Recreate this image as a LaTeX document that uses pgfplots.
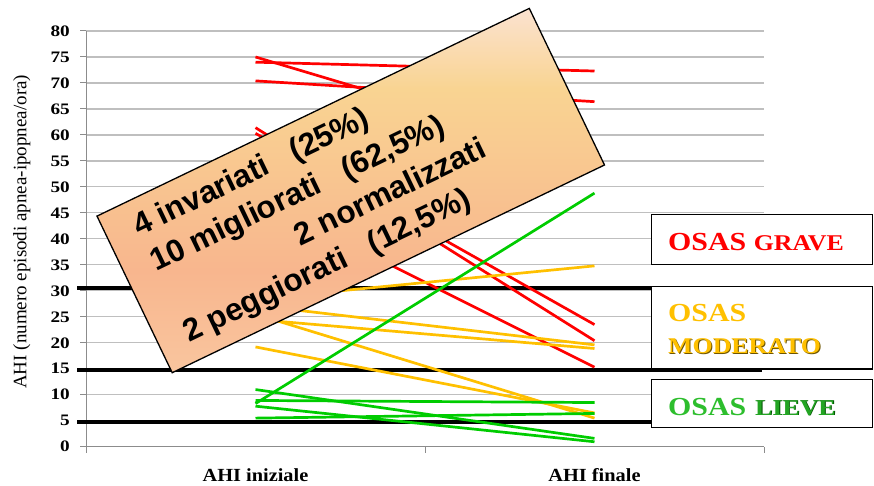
\documentclass[border=0pt]{standalone}
\usepackage{pgfplots}
\pgfplotsset{compat=1.18}
\usepackage{fontspec}
\setmainfont{Liberation Serif}
\newfontfamily\arialfont{Liberation Sans}
\definecolor{cred}{RGB}{255,0,0}
\definecolor{cyel}{RGB}{255,192,0}
\definecolor{cgrn}{RGB}{0,204,0}
\definecolor{gridc}{RGB}{191,191,191}
\definecolor{axc}{RGB}{140,140,140}
\definecolor{pkA}{RGB}{252,230,236}
\definecolor{pchA}{RGB}{250,206,168}
\definecolor{salA}{RGB}{248,182,142}
\definecolor{lorA}{RGB}{249,212,146}
\definecolor{pkB}{RGB}{252,234,242}
\definecolor{crmA}{RGB}{253,238,214}
\definecolor{yshadow}{RGB}{110,85,0}
\definecolor{gshadow}{RGB}{0,80,0}
\definecolor{gtxt}{RGB}{45,190,45}
\definecolor{gtxt2}{RGB}{35,165,35}
\pgfdeclareverticalshading{boxshade}{100bp}{color(0bp)=(pkA); color(17bp)=(pchA); color(39bp)=(salA); color(64bp)=(lorA); color(81bp)=(pkB); color(100bp)=(crmA)}
\begin{document}
\begin{tikzpicture}[x=1pt,y=1pt]
\useasboundingbox (0,0) rectangle (874,485);
\begin{axis}[
  at={(86pt,38.3pt)}, anchor=south west,
  scale only axis, width=678pt, height=415.7pt,
  xmin=-0.5, xmax=1.5, ymin=0, ymax=80,
  clip=false,
  axis x line*=bottom, axis y line*=left,
  axis line style={-, axc, line width=1pt},
  tick align=outside, major tick length=6pt,
  tick style={axc, line width=1pt},
  ytick={0,5,...,80},
  ymajorgrids, major grid style={gridc, line width=1.2pt},
  xtick={-0.5,0.5,1.5}, xticklabels={},
  extra x ticks={0,1},
  extra x tick labels={AHI iniziale,AHI finale},
  extra x tick style={major tick length=0pt, grid=none,
     tick label style={font=\fontsize{18.5}{18.5}\selectfont\bfseries, anchor=base, yshift=-35pt, xscale=1.1}},
  yticklabel style={font=\fontsize{16}{16}\selectfont\bfseries, xscale=1.2, xshift=-5pt},
  /pgf/number format/assume math mode=true,
  ylabel={AHI (numero episodi apnea-ipopnea/ora)},
  ylabel style={font=\fontsize{19}{19}\selectfont, at={(axis description cs:-0.088,0.517)}, anchor=base},
]
% severity thresholds
\addplot[black, line width=4.3pt, forget plot] coordinates {(-0.5265,30.6) (1.494,30.6)};
\addplot[black, line width=4.3pt, forget plot] coordinates {(-0.5265,14.8) (1.494,14.8)};
\addplot[black, line width=4.3pt, forget plot] coordinates {(-0.5265,4.8) (1.494,4.8)};
% red
\addplot[cred, line width=2.7pt] coordinates {(0,75.0) (1,55.5)};
\addplot[cred, line width=2.7pt] coordinates {(0,74.0) (1,72.3)};
\addplot[cred, line width=2.7pt] coordinates {(0,70.4) (1,66.4)};
\addplot[cred, line width=2.7pt] coordinates {(0,61.4) (1,20.4)};
\addplot[cred, line width=2.7pt] coordinates {(0,60.3) (1,23.5)};
\addplot[cred, line width=2.7pt] coordinates {(0,48.0) (1,15.3)};
% yellow
\addplot[cyel, line width=2.7pt] coordinates {(0,28.4) (1,34.8)};
\addplot[cyel, line width=2.7pt] coordinates {(0,27.2) (1,19.6)};
\addplot[cyel, line width=2.7pt] coordinates {(0,24.5) (1,18.9)};
\addplot[cyel, line width=2.7pt] coordinates {(0,25.5) (1,5.5)};
\addplot[cyel, line width=2.7pt] coordinates {(0,19.2) (1,6.5)};
% green
\addplot[cgrn, line width=2.7pt] coordinates {(0,11.0) (1,1.6)};
\addplot[cgrn, line width=2.7pt] coordinates {(0,8.9) (1,8.5)};
\addplot[cgrn, line width=2.7pt] coordinates {(0,8.3) (1,48.8)};
\addplot[cgrn, line width=2.7pt] coordinates {(0,7.8) (1,0.95)};
\addplot[cgrn, line width=2.7pt] coordinates {(0,5.5) (1,6.4)};
\end{axis}
% rotated summary box
\shade[shading=boxshade] (97,268.9) -- (529.3,476.6) -- (604.5,320) -- (172.2,112.3) -- cycle;
\draw[line width=1.3pt, line join=miter] (97,268.9) -- (529.3,476.6) -- (604.5,320) -- (172.2,112.3) -- cycle;
\begin{scope}[shift={(97,268.9)}, rotate=25.66, transform shape]
\tikzset{bt/.style={anchor=base west, inner sep=0pt, font=\arialfont\bfseries\fontsize{31.5}{31.5}\selectfont}}
\node[bt] at (29,-37) {4 invariati\hspace{0.834em}(25\%)};
\node[bt] at (29,-76) {10 migliorati\hspace{0.834em}(62,5\%)};
\node[bt] at (170,-115) {2 normalizzati};
\node[bt] at (28,-154) {2 peggiorati\hspace{0.834em}(12,5\%)};
\end{scope}
% severity boxes
\draw[line width=1.4pt, fill=white] (651.7,220.7) rectangle (872.3,270.7);
\draw[line width=1.4pt, fill=white] (651.7,116) rectangle (872.3,198.3);
\draw[line width=1.4pt, fill=white] (651.7,57.3) rectangle (872.3,105.7);
\node[anchor=base west, inner sep=0pt] at (668,235) {\scalebox{1.15}[1]{\bfseries\color{cred}\fontsize{26}{26}\selectfont OSAS \fontsize{22.5}{22.5}\selectfont GRAVE}};
\node[anchor=base west, inner sep=0pt] at (668,163.3) {\scalebox{1.15}[1]{\bfseries\color{cyel}\fontsize{26}{26}\selectfont OSAS}};
\node[anchor=base west, inner sep=0pt] at (668.9,130.8) {\scalebox{1.15}[1]{\bfseries\color{yshadow}\fontsize{22.5}{22.5}\selectfont MODERATO}};
\node[anchor=base west, inner sep=0pt] at (668,131.7) {\scalebox{1.15}[1]{\bfseries\color{cyel}\fontsize{22.5}{22.5}\selectfont MODERATO}};
\node[anchor=base west, inner sep=0pt] at (668,70) {\scalebox{1.15}[1]{\bfseries\color{gtxt}\fontsize{26}{26}\selectfont OSAS}};
\node[anchor=base west, inner sep=0pt] at (755.9,69.1) {\scalebox{1.15}[1]{\bfseries\color{gshadow}\fontsize{22.5}{22.5}\selectfont LIEVE}};
\node[anchor=base west, inner sep=0pt] at (755,70) {\scalebox{1.15}[1]{\bfseries\color{gtxt2}\fontsize{22.5}{22.5}\selectfont LIEVE}};
\end{tikzpicture}
\end{document}
